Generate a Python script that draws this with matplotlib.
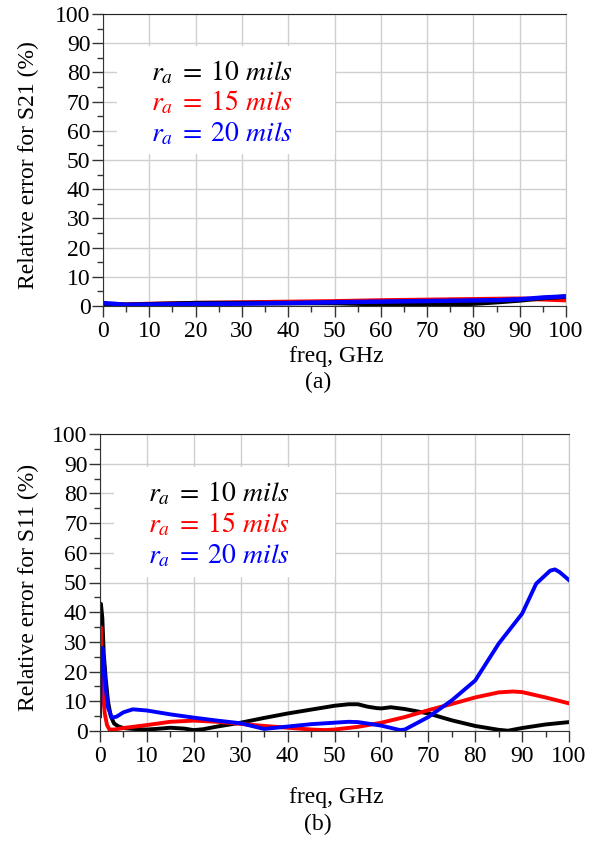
import matplotlib
matplotlib.use("Agg")
import matplotlib.pyplot as plt
from matplotlib.patches import Rectangle
from matplotlib.ticker import MultipleLocator

plt.rcParams['font.family'] = ['Liberation Serif', 'DejaVu Serif']
plt.rcParams['mathtext.fontset'] = 'stix'

# ---- data: (a) relative error for S21 ----
freq_a = [0, 2, 5, 10, 20, 30, 40, 50, 60, 65, 70, 80, 85, 90, 95, 100]
s21_10 = [0.5, 0.5, 0.4, 0.6, 1.0, 1.0, 1.0, 1.0, 0.6, 0.4, 0.5, 0.8, 1.3, 1.9, 2.7, 3.2]
s21_15 = [0.5, 0.5, 0.5, 0.7, 1.0, 1.2, 1.4, 1.6, 1.9, 2.0, 2.1, 2.3, 2.4, 2.5, 2.3, 2.0]
s21_20 = [1.0, 0.8, 0.4, 0.5, 0.7, 0.8, 1.0, 1.3, 1.5, 1.6, 1.7, 1.9, 2.0, 2.3, 2.9, 3.3]

# ---- data: (b) relative error for S11 ----
freq_b10 = [0, 0.2, 0.5, 0.8, 1.2, 1.7, 2.3, 3, 4, 5, 7, 10, 12, 15, 18, 20, 22, 25,
            30, 35, 40, 45, 50, 53, 55, 57, 59, 60, 62, 65, 70, 75, 80, 85, 87, 90, 95, 100]
s11_10 = [40, 42.8, 38, 26, 18, 10, 5, 2.5, 1.5, 1.0, 0.7, 0.5, 0.7, 1.1, 0.8, 0.3, 0.6, 1.5,
          2.8, 4.4, 5.9, 7.2, 8.5, 9.0, 9.0, 8.2, 7.7, 7.6, 8.0, 7.4, 5.9, 3.6, 1.7, 0.4, 0.1, 1.0, 2.2, 3.0]

freq_b15 = [0, 0.15, 0.4, 0.7, 1.0, 1.5, 2, 3, 5, 7, 10, 15, 20, 25, 30, 35, 40, 45, 48, 50,
            55, 60, 65, 70, 75, 80, 85, 88, 90, 95, 100]
s11_15 = [5, 35, 22, 12, 6, 2, 0.5, 0.5, 1.0, 1.4, 2.0, 3.1, 3.5, 3.1, 2.4, 1.7, 1.1, 0.5, 0.3, 0.5,
          1.4, 2.8, 4.7, 7.0, 9.1, 11.3, 13.0, 13.3, 13.1, 11.3, 9.3]

freq_b20 = [0, 0.2, 0.5, 0.8, 1.2, 1.7, 2.5, 3.5, 5, 7, 10, 15, 20, 25, 30, 35, 40, 45, 50, 53,
            55, 60, 64, 65, 70, 75, 80, 85, 90, 93, 96, 97, 98, 100]
s11_20 = [5, 20, 28, 24, 15, 8, 4.5, 4.8, 6.3, 7.3, 6.9, 5.6, 4.5, 3.5, 2.6, 0.7, 1.5, 2.3, 2.8, 3.1,
          3.0, 1.8, 0.3, 0.5, 4.7, 10.3, 17, 29.4, 39.5, 49.6, 54, 54.4, 53.5, 50.8]

legend_labels = [r'$r_a\;=\;10\ mils$', r'$r_a\;=\;15\ mils$', r'$r_a\;=\;20\ mils$']
colors = ['#000000', '#ff0000', '#0000ff']

W, H = 599, 841
fig = plt.figure(figsize=(W / 100, H / 100), dpi=100)

def px_axes(l, t, r, b):
    return fig.add_axes([l / W, 1 - b / H, (r - l) / W, (b - t) / H])

ax1 = px_axes(103, 14, 566, 306)
ax2 = px_axes(100, 434, 569, 731)

FS = 17

def style(ax, ylabel, ylab_y, xlab_y):
    ax.set_xlim(0, 100)
    ax.set_ylim(0, 100)
    ax.xaxis.set_major_locator(MultipleLocator(10))
    ax.xaxis.set_minor_locator(MultipleLocator(5))
    ax.yaxis.set_major_locator(MultipleLocator(10))
    ax.yaxis.set_minor_locator(MultipleLocator(5))
    ax.set_axisbelow(True)
    ax.grid(True, which='major', color='#cfcfcf', linewidth=1.0)
    ax.tick_params(which='major', direction='out', length=8, width=1, labelsize=FS,
                   color='#333333', pad=1)
    ax.tick_params(axis='x', which='major', pad=3)
    ax.tick_params(which='minor', direction='out', length=4, width=1, color='#333333')
    ax.spines['left'].set_color('#333333')
    ax.spines['bottom'].set_color('#333333')
    ax.spines['top'].set_color('#222222')
    ax.spines['right'].set_color('#c8c8c8')
    fig.text(28 / W, 1 - ylab_y / H, ylabel, fontsize=FS, rotation=90,
             ha='center', va='center')
    fig.text(336 / W, 1 - xlab_y / H, 'freq, GHz', fontsize=FS, ha='center', va='center')
    ax.add_patch(Rectangle((3, 52), 47, 37, facecolor='white', edgecolor='none', zorder=1))
    for lab, c, yy in zip(legend_labels, colors, [80, 69.5, 59]):
        ax.text(10.3, yy, lab, color=c, fontsize=20, va='center', ha='left', zorder=3)

style(ax1, 'Relative error for S21 (%)', 165, 356)
style(ax2, 'Relative error for S11 (%)', 587, 797)

ax1.plot(freq_a, s21_15, color=colors[1], lw=3.2, zorder=2)
ax1.plot(freq_a, s21_10, color=colors[0], lw=3.2, zorder=2)
ax1.plot(freq_a, s21_20, color=colors[2], lw=3.2, zorder=2)

ax2.plot(freq_b10, s11_10, color=colors[0], lw=2.8, zorder=2)
ax2.plot(freq_b15, s11_15, color=colors[1], lw=2.8, zorder=2)
ax2.plot(freq_b20, s11_20, color=colors[2], lw=2.8, zorder=2)

fig.text(318 / W, 1 - 382 / H, '(a)', fontsize=FS, ha='center', va='center')
fig.text(318 / W, 1 - 824 / H, '(b)', fontsize=FS, ha='center', va='center')

fig.savefig('out.png', dpi=100)
